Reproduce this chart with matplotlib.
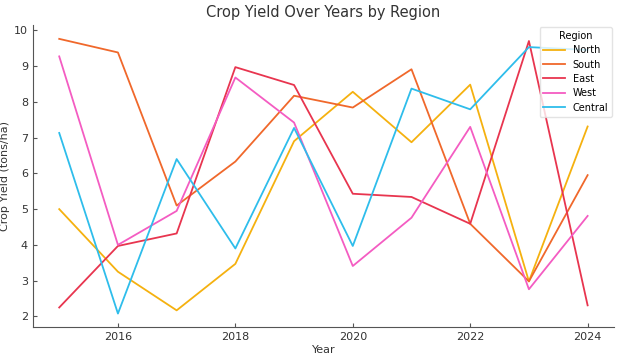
import matplotlib
matplotlib.use("Agg")
import matplotlib.pyplot as plt

years = [2015, 2016, 2017, 2018, 2019, 2020, 2021, 2022, 2023, 2024]
regions = ["North", "South", "East", "West", "Central"]
north = [5.0, 3.25, 2.17, 3.47, 6.9, 8.28, 6.87, 8.48, 2.98, 7.31]
south = [9.76, 9.38, 5.1, 6.33, 8.17, 7.84, 8.91, 4.59, 2.98, 5.95]
east = [2.25, 3.97, 4.32, 8.97, 8.47, 5.43, 5.34, 4.59, 9.70, 2.31]
west = [9.27, 4.0, 4.95, 8.68, 7.42, 3.41, 4.76, 7.3, 2.76, 4.81]
central = [7.13, 2.08, 6.4, 3.9, 7.27, 3.97, 8.37, 7.79, 9.53, 9.45]
colors = ["#F5B10F", "#F0682B", "#E8354F", "#F45CC2", "#2EBDEB"]

plt.rcParams['font.family'] = 'DejaVu Sans'
plt.rcParams['xtick.direction'] = 'in'
plt.rcParams['ytick.direction'] = 'in'

fig = plt.figure(figsize=(6.19, 3.56), dpi=100)
ax = fig.add_axes([0.053, 0.081, 0.939, 0.849])

for name, vals, c in zip(regions, [north, south, east, west, central], colors):
    ax.plot(years, vals, color=c, lw=1.3, label=name)

ax.set_title("Crop Yield Over Years by Region", fontsize=10.5, color="#333333")
ax.set_xlabel("Year", fontsize=8, color="#333333", labelpad=2)
ax.set_ylabel("Crop Yield (tons/ha)", fontsize=8, color="#333333", labelpad=3)
ax.set_xlim(2014.55, 2024.45)
ax.set_ylim(1.7, 10.15)
ax.set_xticks([2016, 2018, 2020, 2022, 2024])
ax.set_yticks(range(2, 11))
ax.tick_params(labelsize=8, length=3, color="#555555", labelcolor="#333333")
for s in ["top", "right"]:
    ax.spines[s].set_visible(False)
for s in ["left", "bottom"]:
    ax.spines[s].set_color("#555555")

leg = ax.legend(title="Region", loc="upper right", fontsize=7, title_fontsize=7,
                handlelength=2.2, labelspacing=0.45, borderaxespad=0.2)
leg.get_frame().set_edgecolor("#dddddd")

fig.savefig("out.png", dpi=100)
